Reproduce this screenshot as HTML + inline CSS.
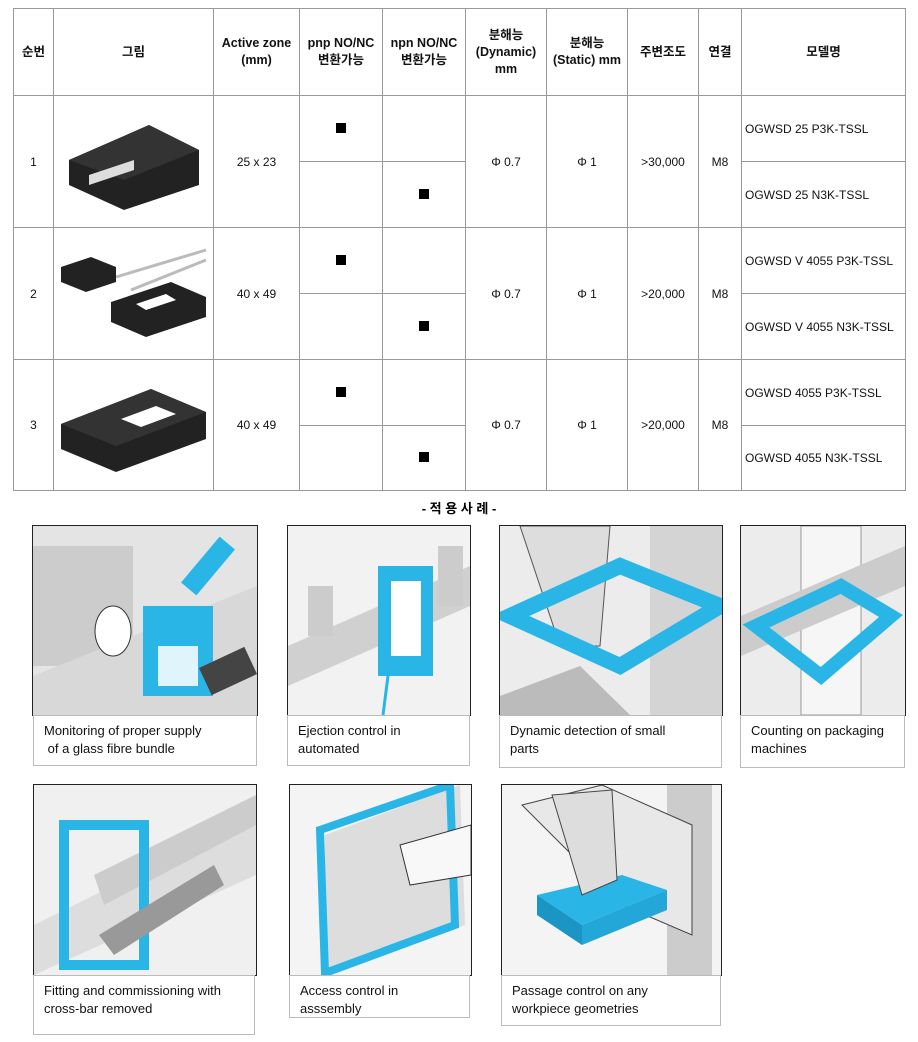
<!DOCTYPE html>
<html><head><meta charset="utf-8"><style>
body{margin:0;background:#fff;width:918px;height:1042px;position:relative;font-family:"Liberation Sans","Noto Sans CJK KR",sans-serif;overflow:hidden}
table{position:absolute;left:13px;top:8px;border-collapse:collapse;font-size:12px;color:#111}
td{border:1px solid #999;text-align:center;padding:0}
th{border:1px solid #999;font-weight:bold;font-size:12.5px;padding:0;line-height:17px}
.m{text-align:left;padding-left:3px}
.sq{display:inline-block;width:10px;height:10px;background:#000}
.img{position:absolute;border:1px solid #222;overflow:hidden;background:#e4e4e4}
.cap{position:absolute;border:1px solid #bbb;font-size:13px;line-height:18px;padding:6px 0 0 10px;box-sizing:border-box;color:#111}
.ttl{position:absolute;left:0;width:918px;top:498px;text-align:center;font-weight:bold;font-size:13px}
</style></head><body>
<table>
<colgroup><col style="width:40px"><col style="width:160px"><col style="width:86px"><col style="width:83px"><col style="width:83px"><col style="width:81px"><col style="width:81px"><col style="width:71px"><col style="width:43px"><col style="width:164px"></colgroup>
<tr style="height:87px"><th>순번</th><th>그림</th><th>Active zone<br>(mm)</th><th>pnp NO/NC<br>변환가능</th><th>npn NO/NC<br>변환가능</th><th>분해능<br>(Dynamic)<br>mm</th><th>분해능<br>(Static) mm</th><th>주변조도</th><th>연결</th><th>모델명</th></tr>
<tr style="height:66px"><td rowspan="2">1</td><td rowspan="2"><svg width="150" height="110" viewBox="0 0 150 110"><polygon points="10,55 90,20 140,45 140,80 65,105 10,80" fill="#222"/><polygon points="10,55 90,20 140,45 65,75" fill="#333"/><rect x="90" y="33" width="20" height="12" fill="#fff" transform="skewY(-20)"/><polygon points="30,70 75,55 75,65 30,80" fill="#ddd"/></svg></td><td rowspan="2">25 x 23</td><td><span class="sq"></span></td><td></td><td rowspan="2">Φ 0.7</td><td rowspan="2">Φ 1</td><td rowspan="2">&gt;30,000</td><td rowspan="2">M8</td><td class="m">OGWSD 25 P3K-TSSL</td></tr>
<tr style="height:66px"><td></td><td><span class="sq"></span></td><td class="m">OGWSD 25 N3K-TSSL</td></tr>
<tr style="height:66px"><td rowspan="2">2</td><td rowspan="2"><svg width="155" height="100" viewBox="0 0 155 100"><polyline points="60,35 150,8" stroke="#bbb" stroke-width="3" fill="none"/><polyline points="75,48 150,18" stroke="#bbb" stroke-width="3" fill="none"/><polygon points="5,25 35,15 60,25 60,40 30,50 5,40" fill="#222"/><polygon points="55,60 115,40 150,55 150,75 90,95 55,80" fill="#222"/><polygon points="80,62 110,52 120,58 90,68" fill="#fff"/></svg></td><td rowspan="2">40 x 49</td><td><span class="sq"></span></td><td></td><td rowspan="2">Φ 0.7</td><td rowspan="2">Φ 1</td><td rowspan="2">&gt;20,000</td><td rowspan="2">M8</td><td class="m">OGWSD V 4055 P3K-TSSL</td></tr>
<tr style="height:66px"><td></td><td><span class="sq"></span></td><td class="m">OGWSD V 4055 N3K-TSSL</td></tr>
<tr style="height:66px"><td rowspan="2">3</td><td rowspan="2"><svg width="155" height="100" viewBox="0 0 155 100"><polygon points="5,50 95,15 150,38 150,65 60,98 5,75" fill="#222"/><polygon points="5,50 95,15 150,38 60,72" fill="#333"/><polygon points="65,45 100,32 120,40 85,53" fill="#fff"/></svg></td><td rowspan="2">40 x 49</td><td><span class="sq"></span></td><td></td><td rowspan="2">Φ 0.7</td><td rowspan="2">Φ 1</td><td rowspan="2">&gt;20,000</td><td rowspan="2">M8</td><td class="m">OGWSD 4055 P3K-TSSL</td></tr>
<tr style="height:65px"><td></td><td><span class="sq"></span></td><td class="m">OGWSD 4055 N3K-TSSL</td></tr>
</table>
<div class="ttl">- 적 용 사 례 -</div>

<div class="img" style="left:32px;top:525px;width:224px;height:189px"><svg width="224" height="189"><rect x="0" y="20" width="100" height="120" fill="#ccc"/><polygon points="0,150 224,60 224,189 0,189" fill="#d8d8d8"/><ellipse cx="80" cy="105" rx="18" ry="25" fill="#fff" stroke="#333"/><rect x="110" y="80" width="70" height="90" fill="#29b6e6"/><rect x="125" y="120" width="40" height="40" fill="#e0f4fb"/><rect x="165" y="10" width="20" height="60" fill="#29b6e6" transform="rotate(40 175 40)"/><rect x="170" y="130" width="50" height="30" fill="#444" transform="rotate(-25 195 145)"/></svg></div>
<div class="cap" style="left:33px;top:715px;width:224px;height:51px">Monitoring of proper supply<br>&nbsp;of a glass fibre bundle</div>

<div class="img" style="left:287px;top:525px;width:182px;height:189px;background:#f2f2f2"><svg width="182" height="189"><polygon points="0,120 182,40 182,80 0,160" fill="#d0d0d0"/><rect x="90" y="40" width="55" height="110" fill="#29b6e6"/><rect x="103" y="55" width="30" height="75" fill="#fff"/><rect x="20" y="60" width="25" height="50" fill="#ccc"/><rect x="150" y="20" width="25" height="60" fill="#ccc"/><line x1="100" y1="150" x2="95" y2="189" stroke="#29b6e6" stroke-width="3"/></svg></div>
<div class="cap" style="left:287px;top:715px;width:183px;height:51px">Ejection control in<br>automated</div>

<div class="img" style="left:499px;top:525px;width:222px;height:189px;background:#ececec"><svg width="222" height="189"><rect x="150" y="0" width="72" height="189" fill="#d4d4d4"/><polygon points="20,0 110,0 100,120 60,120" fill="#ddd" stroke="#555"/><polygon points="10,90 120,40 220,80 120,140" fill="none" stroke="#29b6e6" stroke-width="16"/><polygon points="0,170 80,140 130,189 0,189" fill="#bbb"/></svg></div>
<div class="cap" style="left:499px;top:715px;width:223px;height:53px">Dynamic detection of small<br>parts</div>

<div class="img" style="left:740px;top:525px;width:164px;height:189px;background:#ececec"><svg width="164" height="189"><rect x="60" y="0" width="60" height="189" fill="#f6f6f6" stroke="#999"/><polygon points="0,90 164,20 164,60 0,130" fill="#ccc"/><polygon points="15,100 100,60 150,90 80,150" fill="none" stroke="#29b6e6" stroke-width="14"/></svg></div>
<div class="cap" style="left:740px;top:715px;width:165px;height:53px">Counting on packaging<br>machines</div>

<div class="img" style="left:33px;top:784px;width:222px;height:190px;background:#f0f0f0"><svg width="222" height="190"><polygon points="0,140 222,30 222,90 0,190" fill="#ddd"/><polygon points="60,90 222,10 222,40 70,120" fill="#ccc"/><rect x="30" y="40" width="80" height="140" fill="none" stroke="#29b6e6" stroke-width="10"/><polygon points="65,150 180,80 190,100 80,170" fill="#999"/></svg></div>
<div class="cap" style="left:33px;top:975px;width:222px;height:60px">Fitting and commissioning with<br>cross-bar removed</div>

<div class="img" style="left:289px;top:784px;width:181px;height:190px;background:#f4f4f4"><svg width="181" height="190"><polygon points="35,50 170,0 175,140 35,190" fill="#ddd"/><polygon points="30,45 160,0 165,140 35,188" fill="none" stroke="#29b6e6" stroke-width="8"/><polygon points="110,60 181,40 181,90 120,100" fill="#f8f8f8" stroke="#333"/></svg></div>
<div class="cap" style="left:289px;top:975px;width:181px;height:43px">Access control in<br>asssembly</div>

<div class="img" style="left:501px;top:784px;width:219px;height:190px;background:#f4f4f4"><svg width="219" height="190"><rect x="165" y="0" width="45" height="190" fill="#ccc"/><polygon points="20,20 100,0 190,40 190,150 120,120" fill="#e8e8e8" stroke="#444"/><polygon points="35,110 120,90 165,105 80,140" fill="#29b6e6"/><polygon points="35,110 80,140 80,160 35,130" fill="#1a95c4"/><polygon points="80,140 165,105 165,125 80,160" fill="#22a7d8"/><polygon points="50,10 110,5 115,95 80,110" fill="#ddd" stroke="#444"/></svg></div>
<div class="cap" style="left:501px;top:975px;width:220px;height:51px">Passage control on any<br>workpiece geometries</div>
</body></html>
